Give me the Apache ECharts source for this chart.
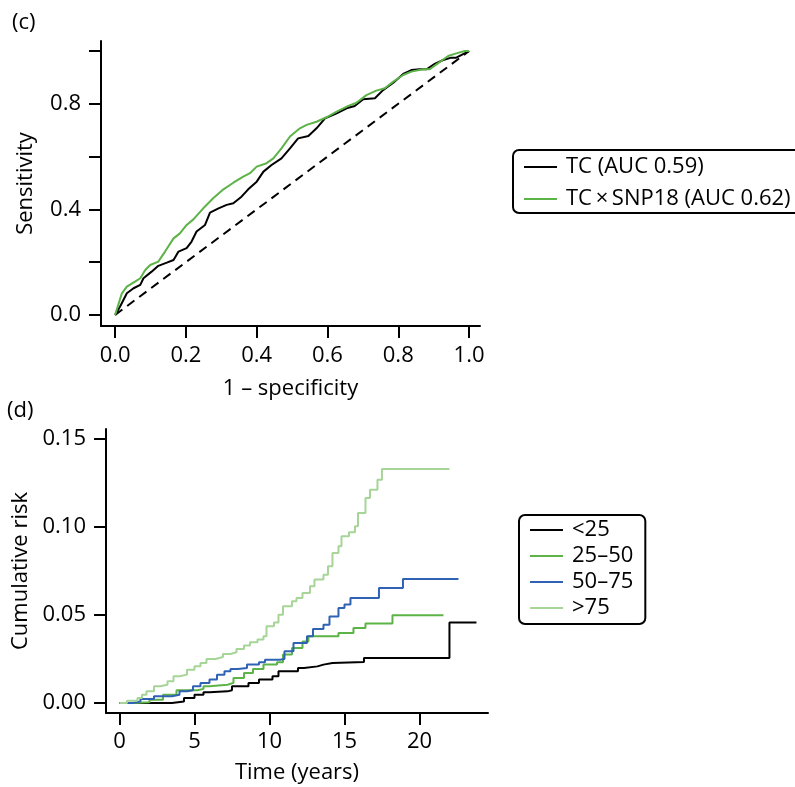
<!DOCTYPE html>
<html>
<head>
<meta charset="utf-8">
<script src="https://cdn.jsdelivr.net/npm/echarts@6/dist/echarts.min.js"></script>
<style>
  html, body { margin: 0; padding: 0; background: #fff; overflow: hidden; }
  #chart { width: 795px; height: 787px; }
</style>
</head>
<body>
<div id="chart"></div>
<script>
// ---- Panel (c): ROC curves ----
const rocTicks = [0, 0.2, 0.4, 0.6, 0.8, 1.0];
const rocYLabels = [0, 0.4, 0.8];
const rocNames = ['TC (AUC 0.59)', 'TC\u2009×\u2009SNP18 (AUC 0.62)'];

const tcFpr = [0, 0.014, 0.033, 0.052, 0.071, 0.080, 0.103, 0.122, 0.146, 0.165, 0.179, 0.202, 0.216, 0.230, 0.254, 0.268, 0.292, 0.315, 0.334, 0.357, 0.376, 0.400, 0.419, 0.442, 0.470, 0.494, 0.517, 0.546, 0.569, 0.593, 0.626, 0.654, 0.677, 0.701, 0.734, 0.757, 0.786, 0.814, 0.837, 0.861, 0.880, 0.903, 0.927, 0.950, 0.964, 1.0];
const tcTpr = [0, 0.032, 0.082, 0.101, 0.114, 0.139, 0.164, 0.186, 0.198, 0.208, 0.240, 0.253, 0.278, 0.316, 0.341, 0.388, 0.404, 0.417, 0.423, 0.448, 0.476, 0.505, 0.543, 0.568, 0.593, 0.631, 0.669, 0.678, 0.707, 0.745, 0.764, 0.783, 0.792, 0.817, 0.821, 0.852, 0.880, 0.913, 0.928, 0.931, 0.931, 0.951, 0.966, 0.975, 0.975, 1.0];

const snpFpr = [0, 0.019, 0.033, 0.056, 0.071, 0.085, 0.099, 0.122, 0.141, 0.165, 0.183, 0.202, 0.221, 0.249, 0.277, 0.306, 0.334, 0.362, 0.381, 0.400, 0.428, 0.447, 0.470, 0.494, 0.522, 0.541, 0.569, 0.597, 0.626, 0.659, 0.682, 0.710, 0.738, 0.762, 0.786, 0.814, 0.837, 0.870, 0.889, 0.912, 0.941, 0.964, 0.988, 1.0];
const snpTpr = [0, 0.082, 0.107, 0.126, 0.139, 0.170, 0.189, 0.202, 0.240, 0.290, 0.309, 0.341, 0.362, 0.404, 0.442, 0.476, 0.501, 0.524, 0.537, 0.562, 0.575, 0.593, 0.631, 0.676, 0.707, 0.720, 0.732, 0.749, 0.770, 0.792, 0.804, 0.833, 0.850, 0.859, 0.884, 0.909, 0.922, 0.931, 0.931, 0.953, 0.981, 0.991, 1.0, 1.0];

const chanceLine = [0, 1];

// ---- Panel (d): cumulative risk by group ----
const timeTicks = [0, 5, 10, 15, 20];
const riskTicks = [0, 0.05, 0.10, 0.15];
const groupNames = ['<25', '25–50', '50–75', '>75'];

const timeLt25 = [0, 3.5, 4.3, 5.0, 5.6, 6.0, 7.2, 7.5, 8.6, 9.3, 10.2, 10.6, 11.9, 12.3, 13.2, 13.6, 14.2, 16.3, 22.0, 23.8];
const riskLt25 = [0, 0.0009, 0.0028, 0.0047, 0.0061, 0.0066, 0.0072, 0.0095, 0.0114, 0.0133, 0.0152, 0.0180, 0.0199, 0.0208, 0.0218, 0.0227, 0.0233, 0.0256, 0.0458, 0.0458];

const time25to50 = [0, 0.9, 2.0, 2.9, 3.8, 5.2, 5.6, 6.0, 7.2, 7.6, 8.3, 8.9, 9.6, 10.5, 10.9, 11.5, 12.2, 12.6, 14.6, 15.6, 16.4, 18.2, 21.6];
const risk25to50 = [0, 0.0004, 0.0019, 0.0047, 0.0072, 0.0080, 0.0095, 0.0104, 0.0114, 0.0142, 0.0170, 0.0193, 0.0218, 0.0231, 0.0275, 0.0313, 0.0350, 0.0379, 0.0398, 0.0426, 0.0451, 0.0498, 0.0498];

const time50to75 = [0, 0.5, 0.9, 1.4, 2.3, 3.5, 4.0, 4.5, 4.9, 5.4, 6.0, 6.5, 7.0, 7.4, 7.9, 8.5, 9.3, 9.7, 10.7, 11.0, 11.6, 12.5, 12.9, 13.6, 14.0, 14.6, 15.0, 15.4, 17.3, 18.9, 22.6];
const risk50to75 = [0, 0, 0.0009, 0.0023, 0.0038, 0.0047, 0.0066, 0.0072, 0.0095, 0.0114, 0.0133, 0.0161, 0.0180, 0.0193, 0.0199, 0.0218, 0.0231, 0.0246, 0.0250, 0.0294, 0.0341, 0.0379, 0.0420, 0.0445, 0.0492, 0.0540, 0.0559, 0.0597, 0.0653, 0.0705, 0.0705];

const timeGt75 = [0, 0.5, 1.2, 1.5, 1.8, 2.3, 2.7, 3.2, 3.6, 4.0, 4.5, 5.0, 5.4, 5.8, 6.4, 6.9, 7.4, 7.8, 8.3, 8.7, 9.2, 9.6, 9.8, 10.3, 10.6, 10.9, 11.5, 11.8, 12.2, 12.7, 13.0, 13.6, 13.9, 14.2, 14.6, 14.8, 15.3, 15.7, 15.9, 16.4, 16.7, 17.2, 17.5, 22.0];
const riskGt75 = [0, 0.0013, 0.0028, 0.0047, 0.0066, 0.0095, 0.0104, 0.0123, 0.0152, 0.0161, 0.0189, 0.0208, 0.0227, 0.0250, 0.0261, 0.0278, 0.0288, 0.0307, 0.0326, 0.0345, 0.0360, 0.0379, 0.0436, 0.0458, 0.0502, 0.0549, 0.0578, 0.0597, 0.0625, 0.0663, 0.0701, 0.0729, 0.0777, 0.0852, 0.0890, 0.0947, 0.0970, 0.1004, 0.1080, 0.1165, 0.1212, 0.1269, 0.1330, 0.1330];

// ---- styling ----
const FONT = '"Open Sans", "Noto Sans", sans-serif';
const BLACK = '#000000';
const GREEN = '#5cb347';
const BLUE = '#3062b4';
const LIGHT_GREEN = '#a6d597';

const zip = (xs, ys) => xs.map((x, i) => [x, ys[i]]);
const textStyle = { fontFamily: FONT, fontSize: 22, color: BLACK };

function axis(opts) {
  return {
    type: 'value',
    gridIndex: opts.grid,
    min: opts.min,
    max: opts.max,
    name: opts.name,
    nameLocation: 'middle',
    nameGap: opts.nameGap,
    nameTextStyle: textStyle,
    axisLine: { show: true, onZero: false, lineStyle: { color: BLACK, width: 2 } },
    axisTick: { show: true, length: 12, customValues: opts.ticks, lineStyle: { color: BLACK, width: 2 } },
    axisLabel: Object.assign({ customValues: opts.labels, formatter: opts.fmt, margin: opts.margin }, textStyle),
    splitLine: { show: false }
  };
}

function legend(names, pos) {
  return {
    data: names,
    orient: 'vertical',
    left: pos.left,
    top: pos.top,
    padding: pos.padding,
    itemGap: pos.gap,
    icon: 'rect',
    itemWidth: 33,
    itemHeight: 2,
    borderColor: BLACK,
    borderWidth: 2,
    borderRadius: 6,
    selectedMode: false,
    textStyle: Object.assign({ lineHeight: 22, padding: [0, 0, 0, 4] }, textStyle)
  };
}

const lineBase = { type: 'line', showSymbol: false, symbol: 'none', animation: false, silent: true };

const option = {
  animation: false,
  backgroundColor: '#ffffff',
  title: [
    { text: '(c)', left: 12, top: 12, padding: 0, textStyle: Object.assign({ fontWeight: 'normal' }, textStyle) },
    { text: '(d)', left: 7, top: 400, padding: 0, textStyle: Object.assign({ fontWeight: 'normal' }, textStyle) }
  ],
  grid: [
    { left: 101, top: 41, width: 379, height: 285 },
    { left: 106, top: 429, width: 382, height: 284 }
  ],
  xAxis: [
    axis({ grid: 0, min: -0.04, max: 1.031, ticks: rocTicks, labels: rocTicks, fmt: v => v.toFixed(1), margin: 19, name: '1 – specificity', nameGap: 52 }),
    axis({ grid: 1, min: -0.9, max: 24.57, ticks: timeTicks, labels: timeTicks, fmt: v => String(v), margin: 18, name: 'Time (years)', nameGap: 49 })
  ],
  yAxis: [
    axis({ grid: 0, min: -0.042, max: 1.038, ticks: rocTicks, labels: rocYLabels, fmt: v => v.toFixed(1), margin: 20, name: 'Sensitivity', nameGap: 64 }),
    axis({ grid: 1, min: -0.0057, max: 0.1557, ticks: riskTicks, labels: riskTicks, fmt: v => v.toFixed(2), margin: 20, name: 'Cumulative risk', nameGap: 74 })
  ],
  legend: [
    legend(rocNames, { left: 513, top: 150, padding: [6, 24, 3, 11], gap: 10 }),
    legend(groupNames, { left: 519, top: 515, padding: [4, 12, 5, 11], gap: 4 })
  ],
  series: [
    Object.assign({}, lineBase, {
      name: 'chance', xAxisIndex: 0, yAxisIndex: 0,
      data: zip(chanceLine, chanceLine),
      lineStyle: { color: BLACK, width: 2, type: [9, 6] }
    }),
    Object.assign({}, lineBase, {
      name: rocNames[0], xAxisIndex: 0, yAxisIndex: 0, color: BLACK,
      data: zip(tcFpr, tcTpr), lineStyle: { color: BLACK, width: 2 }
    }),
    Object.assign({}, lineBase, {
      name: rocNames[1], xAxisIndex: 0, yAxisIndex: 0, color: GREEN,
      data: zip(snpFpr, snpTpr), lineStyle: { color: GREEN, width: 2 }
    }),
    Object.assign({}, lineBase, {
      name: groupNames[0], xAxisIndex: 1, yAxisIndex: 1, color: BLACK, step: 'end',
      data: zip(timeLt25, riskLt25), lineStyle: { color: BLACK, width: 2 }
    }),
    Object.assign({}, lineBase, {
      name: groupNames[1], xAxisIndex: 1, yAxisIndex: 1, color: GREEN, step: 'end',
      data: zip(time25to50, risk25to50), lineStyle: { color: GREEN, width: 2 }
    }),
    Object.assign({}, lineBase, {
      name: groupNames[2], xAxisIndex: 1, yAxisIndex: 1, color: BLUE, step: 'end',
      data: zip(time50to75, risk50to75), lineStyle: { color: BLUE, width: 2 }
    }),
    Object.assign({}, lineBase, {
      name: groupNames[3], xAxisIndex: 1, yAxisIndex: 1, color: LIGHT_GREEN, step: 'end',
      data: zip(timeGt75, riskGt75), lineStyle: { color: LIGHT_GREEN, width: 2 }
    })
  ]
};

const chart = echarts.init(document.getElementById('chart'), null, { renderer: 'canvas' });
chart.setOption(option);
</script>
</body>
</html>
